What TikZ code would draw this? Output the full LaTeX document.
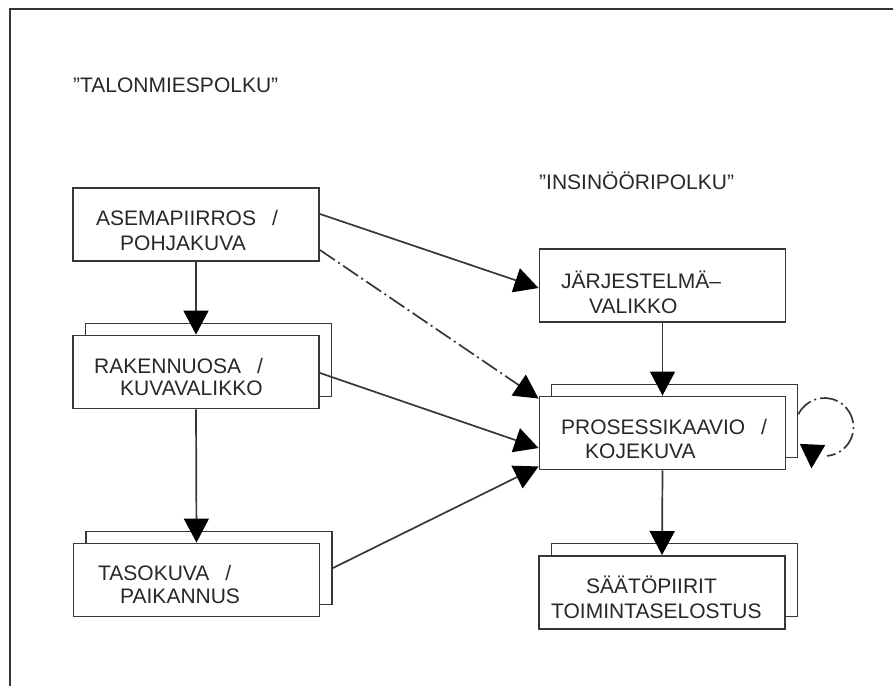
\documentclass[tikz,border=0pt]{standalone}
\usepackage{fontspec}
\setmainfont{Liberation Sans}
\usetikzlibrary{arrows.meta,calc}
\definecolor{ink}{RGB}{55,55,55}
\definecolor{txt}{RGB}{40,40,40}

\begin{document}
\begin{tikzpicture}[x=1bp,y=-1bp,
  sheet/.style={draw=ink, line width=1.9bp, fill=white,
    minimum width=246bp, minimum height=73bp, inner sep=0pt},
  lbl/.style={anchor=base west, inner sep=0pt, text=txt,
    font=\fontsize{21bp}{25bp}\selectfont},
  link/.style={draw=ink, line width=1.7bp,
    -{Triangle[length=24bp,width=25bp,color=black]}},
  dashdot/.style={dash pattern=on 18bp off 4bp on 2bp off 4bp}
]
\useasboundingbox (0,0) rectangle (893,686);

% sheet frame (left and top edges)
\draw[ink, line width=1.9bp] (10,686) -- (10,9) -- (893,9);

% path headings
\node[lbl] (hJanitor) at (73,93) {”TALONMIESPOLKU”};
\node[lbl] (hEngineer) at (539,189) {”INSINÖÖRIPOLKU”};

% left column
\node[sheet] (asema) at (196,224.5) {};
\node[sheet] (rakB) at (208.5,360) {};
\node[sheet] (rak) at (196,372) {};
\node[sheet] (tasoB) at (209,568) {};
\node[sheet] (taso) at (196.5,580) {};

% right column
\node[sheet] (jar) at (662.5,285.5) {};
\node[sheet] (procB) at (674.5,421) {};
\node[sheet] (proc) at (662.5,433) {};
\node[sheet] (saatoB) at (674.5,580) {};
\node[sheet] (saato) at (662,592.5) {};

% box texts
\node[lbl] (tA1) at (96,225) {ASEMAPIIRROS\hspace{16bp}/};
\node[lbl] (tA2) at (120,250) {POHJAKUVA};
\node[lbl] (tR1) at (94,373) {RAKENNUOSA\hspace{16bp}/};
\node[lbl] (tR2) at (120,395) {KUVAVALIKKO};
\node[lbl] (tT1) at (98,580) {TASOKUVA\hspace{16bp}/};
\node[lbl] (tT2) at (120,603) {PAIKANNUS};
\node[lbl] (tJ1) at (561,288) {JÄRJESTELMÄ–};
\node[lbl] (tJ2) at (589,313) {VALIKKO};
\node[lbl] (tP1) at (561,434) {PROSESSIKAAVIO\hspace{16bp}/};
\node[lbl] (tP2) at (585,458) {KOJEKUVA};
\node[lbl] (tS1) at (586,593) {SÄÄTÖPIIRIT};
\node[lbl] (tS2) at (551,618) {TOIMINTASELOSTUS};

% vertical connectors
\draw[link] (asema.south) -- (rak.north);
\draw[link] (rak.south) -- (taso.north);
\draw[link] (jar.south) -- (proc.north);
\draw[link] (proc.south) -- (saato.north);

% crossing connectors
\draw[link] ($(asema.east)+(0,-10.5)$) -- ($(jar.west)+(0,2.5)$);
\draw[link, dashdot] ($(asema.east)+(0,25.5)$) -- ($(proc.north west)+(0,3)$);
\draw[link] ($(rak.east)+(0,1)$) -- ($(proc.west)+(0,15)$);
\draw[link] (tasoB.east) -- ($(proc.south west)+(0,-4)$);

% self loop on the process sheet
\draw[ink, line width=1.7bp, dashdot]
  ($(procB.east)+(26,6)$) ++(206:29) arc[start angle=206, end angle=445, radius=29];
\draw[link] ($(procB.south east)+(14,-12)$) -- ($(procB.south east)+(13,10)$);
\end{tikzpicture}
\end{document}
